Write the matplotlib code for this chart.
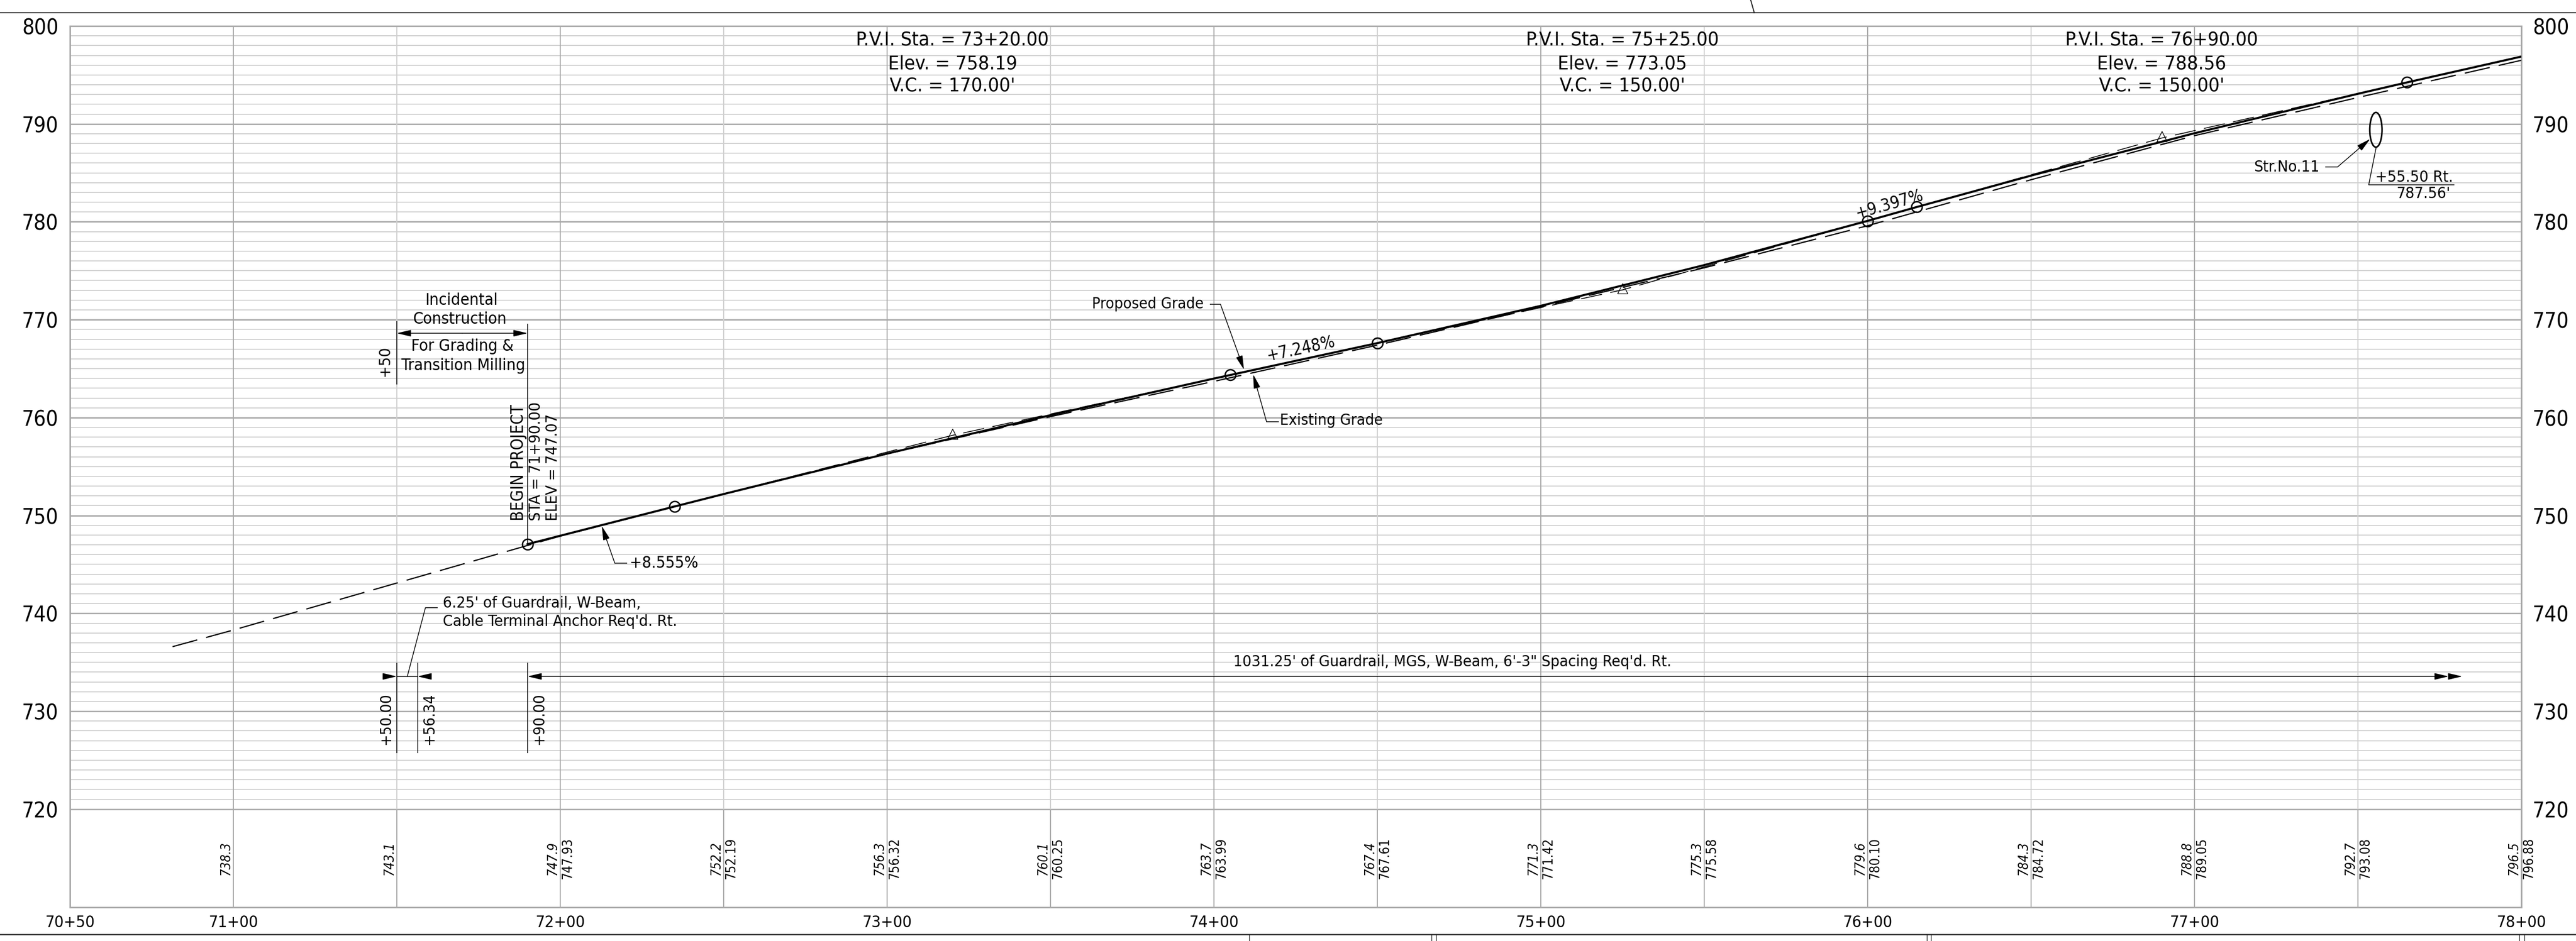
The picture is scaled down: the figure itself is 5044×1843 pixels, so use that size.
import matplotlib
matplotlib.use('Agg')
import matplotlib.pyplot as plt
from matplotlib.lines import Line2D
from matplotlib.patches import Ellipse

plt.rcParams['lines.scale_dashes'] = False
plt.rcParams['font.family'] = 'DejaVu Sans'
plt.rcParams['font.stretch'] = 'condensed'

W, H = 5044, 1843

# even stations along the bottom of the sheet
sta_50 = [7100, 7150, 7200, 7250, 7300, 7350, 7400, 7450, 7500, 7550, 7600, 7650, 7700, 7750, 7800]
exist_at_50 = [738.3, 743.1, 747.9, 752.2, 756.3, 760.1, 763.7, 767.4, 771.3, 775.3, 779.6, 784.3, 788.8, 792.7, 796.5]
prop_sta_50 = [7200, 7250, 7300, 7350, 7400, 7450, 7500, 7550, 7600, 7650, 7700, 7750, 7800]
prop_at_50 = [747.93, 752.19, 756.32, 760.25, 763.99, 767.61, 771.42, 775.58, 780.10, 784.72, 789.05, 793.08, 796.88]

# profile lines
exist_sta = [7081.4] + sta_50
exist_elev = [736.6] + exist_at_50
prop_sta = [7190, 7200, 7235, 7250, 7300, 7350, 7400, 7405, 7450, 7500, 7550, 7600, 7615, 7650, 7700, 7750, 7765, 7800]
prop_elev = [747.07, 747.93, 750.92, 752.19, 756.32, 760.25, 763.99, 764.35, 767.61, 771.42, 775.58, 780.10, 781.51, 784.72, 789.05, 793.08, 794.24, 796.88]

# vertical curves
pvc_sta = [7235, 7450, 7615]
pvc_elev = [750.92, 767.61, 781.51]
pvi_sta = [7320, 7525, 7690]
pvi_elev = [758.19, 773.05, 788.56]
pvt_sta = [7405, 7600, 7765]
pvt_elev = [764.35, 780.10, 794.24]
pvi_names = ['73+20.00', '75+25.00', '76+90.00']
pvi_vc = ['170.00', '150.00', '150.00']

begin_sta = 7190
begin_elev = 747.07
guard_sta = [7150, 7156.34, 7190]
guard_names = ['+50.00', '+56.34', '+90.00']

y_ticks = [720, 730, 740, 750, 760, 770, 780, 790, 800]
x_ticks = [7050, 7100, 7200, 7300, 7400, 7500, 7600, 7700, 7800]
x_labels = ['70+50', '71+00', '72+00', '73+00', '74+00', '75+00', '76+00', '77+00', '78+00']

GRID = '#d0d0d0'
GRID_DK = '#a9a9a9'
FS = 22.5

fig = plt.figure(figsize=(W / 100, H / 100), dpi=100, facecolor='white')
ax = fig.add_axes([137 / W, (H - 1776.5) / H, 4800 / W, 1725.5 / H])
ax.set_xlim(7050, 7800)
ax.set_ylim(710, 800)

for s in ax.spines.values():
    s.set_color(GRID_DK)
    s.set_linewidth(2.2)

ax.set_yticks(y_ticks)
ax.set_yticklabels([str(v) for v in y_ticks])
ax.set_xticks(x_ticks)
ax.set_xticklabels(x_labels)
ax.tick_params(axis='y', length=0, pad=16, labelsize=30, labelleft=True, labelright=True)
ax.tick_params(axis='x', length=0, pad=11, labelsize=23)

# grid
for e in range(720, 800):
    major = e % 10 == 0
    ax.hlines(e, 7050, 7800, color=GRID_DK if major else GRID, lw=2.0 if major else 1.4, zorder=1)
for s in sta_50[:-1]:
    major = s % 100 == 0
    ax.vlines(s, 720, 800, color=GRID_DK if major else GRID, lw=1.5, zorder=1)
    ax.vlines(s, 710, 720, color=GRID_DK, lw=1.5, zorder=1)

# profiles
ax.plot(exist_sta, exist_elev, color='black', lw=1.7, ls=(0, (36, 13)), zorder=3)
ax.plot(prop_sta, prop_elev, color='black', lw=2.9, zorder=4)
for i in range(3):
    ax.plot([pvc_sta[i], pvi_sta[i], pvt_sta[i]], [pvc_elev[i], pvi_elev[i], pvt_elev[i]],
            color='black', lw=1.2, ls=(0, (30, 12)), zorder=3)
ax.plot([begin_sta] + pvc_sta + pvt_sta, [begin_elev] + pvc_elev + pvt_elev, ls='none', marker='o', ms=15,
        mfc='none', mec='black', mew=2.0, zorder=5)
tri = [(-1, -0.7), (1, -0.7), (0, 1.3), (-1, -0.7)]
ax.plot(pvi_sta, pvi_elev, ls='none', marker=tri, ms=18.7, mfc='none', mec='black', mew=1.0, zorder=5)


def line(xs, ys, lw=1.1):
    ax.plot(xs, ys, color='black', lw=lw, zorder=6, solid_capstyle='butt')


def arrow(x0, y0, x1, y1):
    # arrow with the tip at x1,y1
    ax.annotate('', xy=(x1, y1), xytext=(x0, y0), zorder=6,
                arrowprops=dict(arrowstyle='-|>,head_length=17,head_width=4', mutation_scale=1,
                                shrinkA=0, shrinkB=0, color='black', lw=1.1))


def label(x, y, s, ha='center', va='center', rot=0, **kw):
    ax.text(x, y, s, ha=ha, va=va, rotation=rot, fontsize=kw.pop('fs', FS), color='black', zorder=7, **kw)


# P.V.I. notes
for i in range(3):
    label(pvi_sta[i], 798.5, 'P.V.I. Sta. = ' + pvi_names[i], fs=27.6)
    label(pvi_sta[i], 796.1, 'Elev. = %.2f' % pvi_elev[i], fs=27.6)
    label(pvi_sta[i], 793.8, "V.C. = %s'" % pvi_vc[i], fs=27.6)

# grades
label(7426.7, 767.03, '+7.248%', rot=12.2, fs=23.5)
label(7606.7, 781.8, '+9.397%', rot=15.7, fs=23.5)
label(7221.25, 745.12, '+8.555%', ha='left', fs=23)
line([7220.5, 7216.7], [745.12, 745.12])
arrow(7216.7, 745.12, 7212.7, 748.93)

# grade leaders
label(7396.9, 771.62, 'Proposed Grade', ha='right', fs=22)
line([7398.75, 7402.0], [771.57, 771.57])
arrow(7402.0, 771.57, 7409.2, 764.89)
label(7420.2, 759.73, 'Existing Grade', ha='left', fs=22)
line([7419.8, 7416.1], [759.57, 759.57])
arrow(7416.1, 759.57, 7412.0, 764.42)

# begin project
line([begin_sta, begin_sta], [769.59, begin_elev])
label(7187.2, 749.45, 'BEGIN PROJECT', va='bottom', rot=90, fs=23.5)
label(7192.65, 749.45, 'STA = 71+90.00', va='bottom', rot=90)
label(7197.8, 749.45, 'ELEV = 747.07', va='bottom', rot=90)

# incidental construction
line([7150, 7150], [769.85, 763.38])
arrow(7170, 768.62, 7150, 768.62)
arrow(7170, 768.62, 7190, 768.62)
label(7169.7, 771.94, 'Incidental', fs=23)
label(7169.2, 770.06, 'Construction', fs=23)
label(7170, 767.26, 'For Grading &', fs=23)
label(7170.3, 765.31, 'Transition Milling', fs=23)
label(7146.4, 765.78, '+50', rot=90)

# guardrail
for s in guard_sta:
    line([s, s], [734.95, 725.72])
line(guard_sta[:2], [733.56, 733.56])
arrow(7146.4, 733.56, 7150, 733.56)
arrow(7160, 733.56, 7156.34, 733.56)
arrow(7773.9, 733.56, 7190, 733.56)
arrow(7773.9, 733.56, 7777.75, 733.56)
arrow(7778.6, 733.56, 7781.9, 733.56)
line([7153.2, 7158.75, 7162.5], [733.56, 740.58, 740.58])
label(7164.06, 741.03, "6.25' of Guardrail, W-Beam,", ha='left')
label(7164.06, 739.15, "Cable Terminal Anchor Req'd. Rt.", ha='left')
label(7473, 735.05, "1031.25' of Guardrail, MGS, W-Beam, 6'-3\" Spacing Req'd. Rt.", fs=22.3)
for x, s in zip([7146.7, 7160, 7193.6], guard_names):
    label(x, 729.2, s, rot=90, fs=22)

# structure
ax.add_patch(Ellipse((7755.5, 789.4), 3.75, 3.55, fc='none', ec='black', lw=2.2, zorder=6))
label(7738.3, 785.6, 'Str.No.11', ha='right')
line([7740.0, 7743.75], [785.6, 785.6])
arrow(7743.75, 785.6, 7753.75, 788.47)
line([7755.6, 7753.3, 7779.5], [787.64, 783.78, 783.78])
label(7779.1, 784.56, '+55.50 Rt.', ha='right')
label(7778.3, 782.84, "787.56'", ha='right')

# elevations along the bottom
for s, v in zip(sta_50, exist_at_50):
    label(s - 2.2, 714.97, '%.1f' % v, rot=90, fs=18.5, style='italic')
for s, v in zip(prop_sta_50, prop_at_50):
    label(s + 2.3, 714.97, '%.2f' % v, rot=90, fs=18.5)

# title block lines of the sheet, outside the chart
page = fig.transFigure


def page_line(x0, y0, x1, y1, lw=1.2, color='#222222'):
    fig.add_artist(Line2D([x0 / W, x1 / W], [1 - y0 / H, 1 - y1 / H], color=color, lw=lw, transform=page))


page_line(0, 25, W, 25, lw=1.5)
page_line(0, 1830, W, 1830, lw=1.8)
page_line(3428, 0, 3435, 25, lw=1.5)
for x in [2446, 2803, 2812, 3773, 3781, 4933, 4943]:
    page_line(x, 1830, x, H, lw=1.0)

fig.savefig('out.png', dpi=100, facecolor='white')
